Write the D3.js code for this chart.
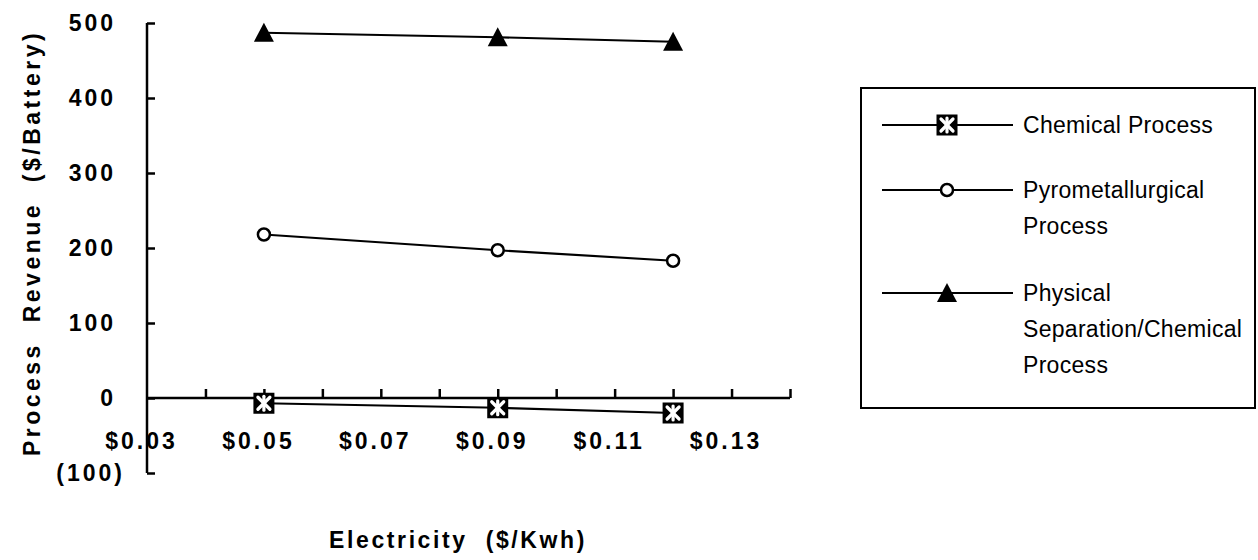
<!DOCTYPE html>
<html>
<head>
<meta charset="utf-8">
<script src="https://cdn.jsdelivr.net/npm/d3@7"></script>
<style>
  html, body { margin: 0; padding: 0; background: #fff; }
  svg { display: block; }
  text { font-family: "Liberation Sans", Arial, Helvetica, sans-serif; fill: #000; }
</style>
</head>
<body>
<svg id="chart" width="1258" height="560"></svg>
<script>
// Electricity price ($/kWh) at which each process was evaluated
const electricity = [0.05, 0.09, 0.12];

// Process revenue ($/battery) per process
const chemical = [-7, -13, -20];
const pyrometallurgical = [218, 197, 183];
const physicalSeparation = [487, 481, 475];

const seriesNames = ["Chemical Process", "Pyrometallurgical Process", "Physical Separation/Chemical Process"];
const legendLines = [["Chemical Process"], ["Pyrometallurgical", "Process"], ["Physical", "Separation/Chemical", "Process"]];
const markerKinds = ["square", "circle", "triangle"];

// Axis ticks
const yTicks = [-100, 0, 100, 200, 300, 400, 500];
const xMinorTicks = [0.04, 0.05, 0.06, 0.07, 0.08, 0.09, 0.10, 0.11, 0.12, 0.13, 0.14];
const xLabelTicks = [0.03, 0.05, 0.07, 0.09, 0.11, 0.13];

const svg = d3.select("#chart");

const x = d3.scaleLinear().domain([0.03, 0.14]).range([147, 790]);
const y = d3.scaleLinear().domain([-100, 500]).range([473, 23]);

const series = [chemical, pyrometallurgical, physicalSeparation].map((vals, i) => ({
  name: seriesNames[i],
  kind: markerKinds[i],
  points: electricity.map((e, j) => ({ x: e, y: vals[j] }))
}));

const axisFont = { size: 23, spacing: 3 };

// Y axis: vertical line with inward ticks
const yAxis = svg.append("g").attr("transform", `translate(${x(0.03)},0)`)
  .call(d3.axisRight(y).tickValues(yTicks).tickSize(8).tickFormat(""));
yAxis.select(".domain").attr("d", `M0,${y(500)}V${y(-100)}`).attr("stroke", "#000").attr("stroke-width", 2.5);
yAxis.selectAll(".tick line").attr("stroke", "#000").attr("stroke-width", 2.5);

// Y tick labels, accounting format for negatives
svg.append("g").selectAll("text").data(yTicks).join("text")
  .attr("x", d => (d < 0 ? 122 : 113) + axisFont.spacing)
  .attr("y", d => y(d))
  .attr("dy", "0.35em")
  .attr("text-anchor", "end")
  .attr("font-size", axisFont.size)
  .attr("font-weight", "bold")
  .attr("letter-spacing", axisFont.spacing)
  .text(d => d < 0 ? `(${Math.abs(d)})` : d3.format("d")(d));

// X axis along zero with upward ticks
const xAxis = svg.append("g").attr("transform", `translate(0,${y(0)})`)
  .call(d3.axisTop(x).tickValues(xMinorTicks).tickSize(9).tickFormat(""));
xAxis.select(".domain").attr("d", `M${x(0.03)},0H${x(0.14)}`).attr("stroke", "#000").attr("stroke-width", 2.5);
xAxis.selectAll(".tick line").attr("stroke", "#000").attr("stroke-width", 2.5);

// X tick labels below the plot
svg.append("g").selectAll("text").data(xLabelTicks).join("text")
  .attr("x", d => x(d) - 7 + axisFont.spacing / 2)
  .attr("y", 449)
  .attr("text-anchor", "middle")
  .attr("font-size", axisFont.size)
  .attr("font-weight", "bold")
  .attr("letter-spacing", axisFont.spacing)
  .text(d => "$" + d3.format(".2f")(d));

// Axis titles
svg.append("text")
  .attr("x", 458).attr("y", 548)
  .attr("text-anchor", "middle")
  .attr("font-size", axisFont.size).attr("font-weight", "bold")
  .attr("letter-spacing", 2.6)
  .attr("xml:space", "preserve").style("white-space", "pre")
  .text("Electricity  ($/Kwh)");

svg.append("text")
  .attr("transform", "translate(40,243) rotate(-90)")
  .attr("text-anchor", "middle")
  .attr("font-size", axisFont.size).attr("font-weight", "bold")
  .attr("letter-spacing", 3.5)
  .attr("xml:space", "preserve").style("white-space", "pre")
  .text("Process  Revenue  ($/Battery)");

// Marker drawing
function drawMarker(g, kind, cx, cy) {
  if (kind === "square") {
    const s = 21;
    g.append("rect").attr("x", cx - s / 2).attr("y", cy - s / 2).attr("width", s).attr("height", s).attr("fill", "#000");
    const a = 6;
    const star = g.append("g").attr("stroke", "#fff").attr("stroke-width", 3.2).attr("stroke-linecap", "round");
    star.append("line").attr("x1", cx - a).attr("y1", cy - a).attr("x2", cx + a).attr("y2", cy + a);
    star.append("line").attr("x1", cx - a).attr("y1", cy + a).attr("x2", cx + a).attr("y2", cy - a);
    star.append("line").attr("x1", cx).attr("y1", cy - a - 1).attr("x2", cx).attr("y2", cy + a + 1);
  } else if (kind === "circle") {
    g.append("circle").attr("cx", cx).attr("cy", cy).attr("r", 6)
      .attr("fill", "#fff").attr("stroke", "#000").attr("stroke-width", 2.5);
  } else {
    const w = 20, h = 18;
    g.append("path")
      .attr("d", `M${cx},${cy - h / 2 - 1}L${cx + w / 2},${cy + h / 2}L${cx - w / 2},${cy + h / 2}Z`)
      .attr("fill", "#000");
  }
}

const line = d3.line().x(d => x(d.x)).y(d => y(d.y));

const plot = svg.append("g");
series.forEach(s => {
  plot.append("path").datum(s.points)
    .attr("d", line).attr("fill", "none").attr("stroke", "#000").attr("stroke-width", 2.2);
});
series.forEach(s => {
  const g = plot.append("g");
  s.points.forEach(p => drawMarker(g, s.kind, x(p.x), y(p.y)));
});

// Legend
const legend = svg.append("g");
legend.append("rect").attr("x", 861).attr("y", 88).attr("width", 394).attr("height", 320)
  .attr("fill", "#fff").attr("stroke", "#000").attr("stroke-width", 2);

const rowY = [125, 190, 293];
series.forEach((s, i) => {
  const g = legend.append("g");
  g.append("line").attr("x1", 882).attr("x2", 1013).attr("y1", rowY[i]).attr("y2", rowY[i])
    .attr("stroke", "#000").attr("stroke-width", 2);
  drawMarker(g, s.kind, 947, rowY[i]);
  legendLines[i].forEach((t, k) => {
    g.append("text").attr("x", 1023).attr("y", rowY[i] + k * 36)
      .attr("dy", "0.35em").attr("font-size", 23).attr("letter-spacing", 0.3).text(t);
  });
});
</script>
</body>
</html>
